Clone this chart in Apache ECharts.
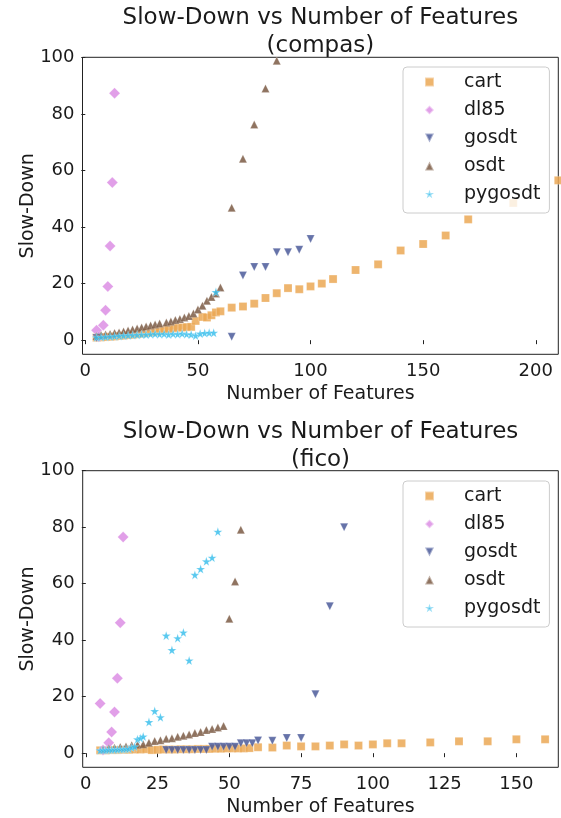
<!DOCTYPE html>
<html>
<head>
<meta charset="utf-8">
<script src="https://cdn.jsdelivr.net/npm/echarts@6.0.0/dist/echarts.min.js"></script>
<style>
html,body{margin:0;padding:0;background:#fff;}
#chart{width:561px;height:818px;}
</style>
</head>
<body>
<div id="chart"></div>
<script>
// ---------- DATA ----------
const seriesNames = ['cart', 'dl85', 'gosdt', 'osdt', 'pygosdt'];
const xTicksCompas = [0, 50, 100, 150, 200];
const xTicksFico = [0, 25, 50, 75, 100, 125, 150];
const yTicks = [0, 20, 40, 60, 80, 100];

// compas
const compasCart = [[5,0.9],[7,1.0],[9,1.1],[11,1.2],[13,1.3],[15,1.5],[17,1.6],[19,1.8],[21,1.9],[23,2.1],[25,2.3],[27,2.6],[29,2.8],[31,3.0],[33,3.3],[35,3.6],[37,3.9],[39,4.2],[41,4.4],[43,4.5],[45,4.6],[47,4.7],[49,6.8],[52,8.2],[54,8.0],[56,8.8],[58,9.8],[60,10.2],[65,11.5],[70,11.9],[75,12.9],[80,14.9],[85,16.6],[90,18.4],[95,18.0],[100,19.0],[105,20.0],[110,21.6],[120,24.8],[130,26.8],[140,31.7],[150,34.0],[160,37.0],[170,42.7],[190,48.5],[210,56.5]];
const compasDl85 = [[5,3.5],[6,1.2],[8,5.3],[9,10.6],[10,19.0],[11,33.3],[12,55.7],[13,87.3]];
const compasGosdt = [[5,0.8],[6,0.9],[65,1.2],[70,22.9],[75,25.9],[80,25.9],[85,31.1],[90,31.1],[95,32.0],[100,35.8]];
const compasOsdt = [[5,1.5],[7,1.8],[9,2.0],[11,2.2],[13,2.5],[15,2.7],[17,3.1],[19,3.4],[21,3.8],[23,4.1],[25,4.5],[27,4.8],[29,5.2],[31,5.5],[33,5.9],[36,6.2],[38,6.6],[40,7.1],[42,7.5],[44,8.0],[46,8.5],[48,9.4],[50,10.8],[52,12.2],[54,13.9],[56,15.3],[58,16.5],[60,18.6],[65,46.8],[70,64.1],[75,76.2],[80,89.0],[85,98.8]];
const compasPygosdt = [[5,1.0],[7,1.1],[9,1.2],[11,1.3],[13,1.4],[15,1.5],[17,1.6],[19,1.7],[21,1.8],[23,1.9],[25,2.0],[27,2.0],[29,2.1],[31,2.2],[33,2.1],[35,2.2],[37,2.0],[39,2.2],[41,2.1],[43,2.3],[45,2.1],[47,2.0],[49,1.6],[51,2.3],[53,2.5],[55,2.6],[57,2.6],[58,17.0]];

// fico
const ficoCart = [[5,1.0],[7,1.0],[9,1.1],[11,1.1],[13,1.2],[15,1.2],[17,1.3],[19,1.3],[21,1.4],[23,1.1],[25,1.2],[27,1.3],[29,1.3],[31,1.3],[33,1.4],[35,1.4],[37,1.4],[39,1.5],[41,1.5],[43,1.5],[45,1.6],[47,1.6],[49,1.7],[51,1.7],[53,1.7],[55,1.7],[57,1.8],[60,2.1],[65,2.0],[70,2.7],[75,2.4],[80,2.4],[85,2.7],[90,3.1],[95,2.7],[100,3.1],[105,3.5],[110,3.5],[120,3.8],[130,4.2],[140,4.2],[150,4.9],[160,4.9]];
const ficoDl85 = [[5,17.6],[6,1.1],[8,3.7],[9,7.5],[10,14.6],[11,26.5],[12,46.2],[13,76.5]];
const ficoGosdt = [[28,1.1],[30,1.1],[32,1.1],[34,1.1],[36,1.1],[38,1.1],[40,1.1],[42,1.1],[44,2.3],[46,2.3],[48,2.3],[50,2.3],[52,2.3],[54,3.5],[56,3.5],[58,3.5],[60,4.5],[65,4.4],[70,5.4],[75,5.4],[80,20.9],[85,52.0],[90,80.0]];
const ficoOsdt = [[6,1.3],[8,1.7],[10,1.9],[12,2.2],[14,2.4],[16,2.8],[18,3.0],[20,3.2],[22,3.7],[24,4.3],[26,4.6],[28,5.1],[30,5.3],[32,5.8],[34,6.2],[36,6.6],[38,7.1],[40,7.5],[42,8.2],[44,8.6],[46,9.1],[48,9.6],[50,47.6],[52,60.8],[54,79.1]];
const ficoPygosdt = [[5,1.0],[6,1.1],[7,1.1],[8,1.2],[9,1.2],[10,1.3],[11,1.3],[12,1.4],[13,1.4],[14,1.5],[15,1.5],[16,2.0],[17,2.3],[18,4.9],[19,5.3],[20,5.9],[22,11.0],[24,14.9],[26,12.7],[28,41.6],[30,36.5],[32,40.7],[34,42.7],[36,32.8],[38,63.1],[40,65.2],[42,67.9],[44,69.2],[46,78.4]];

// ---------- STYLE ----------
const FONT = 'DejaVu Sans';
const TXT = '#1a1a1a';
const colors = {cart:'#eba855', dl85:'#dc8ee4', gosdt:'#4b5a9a', osdt:'#7b5a44', pygosdt:'#3cbfec'};
const STAR = 'path://M100,0 L122.45,69.1 L195.1,69.1 L136.3,111.8 L158.8,180.9 L100,138.2 L41.2,180.9 L63.7,111.8 L4.9,69.1 L77.55,69.1 Z';
const DOWN = 'path://M0,0 L100,0 L50,100 Z';
const symbols = {cart:'rect', dl85:'diamond', gosdt:DOWN, osdt:'triangle', pygosdt:STAR};
const sizes = {cart:[8,8], dl85:[11,11], gosdt:[8,8], osdt:[8,8], pygosdt:[9,9]};

function mk(name, data, idx) {
  return {
    name: name, type: 'scatter', xAxisIndex: idx, yAxisIndex: idx,
    data: data, symbol: symbols[name], symbolSize: sizes[name], clip: true,
    itemStyle: {color: colors[name], opacity: 0.85, borderColor: 'rgba(255,255,255,0.5)', borderWidth: 0.5},
    emphasis: {disabled: true}
  };
}

const grids = [
  {left: 82.5, top: 57.3, width: 475.8, height: 297, show: true, borderColor: '#222', borderWidth: 1, backgroundColor: 'transparent'},
  {left: 82.7, top: 470.7, width: 475.6, height: 296.6, show: true, borderColor: '#222', borderWidth: 1, backgroundColor: 'transparent'}
];

function xAx(idx, min, max, ticks) {
  return {
    type: 'value', gridIndex: idx, min: min, max: max,
    axisLine: {show: false}, splitLine: {show: false},
    axisTick: {show: true, inside: false, length: 4, customValues: ticks, lineStyle: {color: '#222', width: 1}},
    axisLabel: {customValues: ticks, margin: 8, fontSize: 18, color: TXT, fontFamily: FONT},
    name: 'Number of Features', nameLocation: 'middle', nameGap: 30,
    nameTextStyle: {fontSize: 19, color: TXT, fontFamily: FONT}
  };
}
function yAx(idx) {
  return {
    type: 'value', gridIndex: idx, min: -5, max: 100,
    axisLine: {show: false}, splitLine: {show: false},
    axisTick: {show: true, inside: false, length: 4, customValues: yTicks, lineStyle: {color: '#222', width: 1}},
    axisLabel: {customValues: yTicks, margin: 8, fontSize: 18, color: TXT, fontFamily: FONT},
    name: 'Slow-Down', nameLocation: 'middle', nameGap: 45, nameMoveOverlap: false,
    nameTextStyle: {fontSize: 19, color: TXT, fontFamily: FONT}
  };
}

const legendData = seriesNames.map(n => ({name: n, icon: symbols[n]}));
function leg(top) {
  return {
    left: 403, top: top, orient: 'vertical', data: legendData,
    itemWidth: 9, itemHeight: 9, itemGap: 8,
    backgroundColor: 'rgba(255,255,255,0.8)', borderColor: '#cccccc', borderWidth: 1, borderRadius: 4,
    padding: [5, 9, 9, 21],
    textStyle: {fontSize: 19, color: TXT, fontFamily: FONT, lineHeight: 20, padding: [0, 0, 0, 25]},
    selectedMode: false
  };
}

const titleStyle = {fontSize: 23, fontWeight: 'normal', color: TXT, fontFamily: FONT, lineHeight: 28};

const option = {
  animation: false,
  title: [
    {text: 'Slow-Down vs Number of Features\n(compas)', left: 320.4, top: 4, textAlign: 'center', textStyle: titleStyle, padding: 0},
    {text: 'Slow-Down vs Number of Features\n(fico)', left: 320.5, top: 418, textAlign: 'center', textStyle: titleStyle, padding: 0}
  ],
  grid: grids,
  xAxis: [xAx(0, -1.24, 210, xTicksCompas), xAx(1, -1.08, 164.6, xTicksFico)],
  yAxis: [yAx(0), yAx(1)],
  legend: [leg(67), leg(481)],
  series: [
    mk('cart', compasCart, 0), mk('dl85', compasDl85, 0), mk('gosdt', compasGosdt, 0), mk('osdt', compasOsdt, 0), mk('pygosdt', compasPygosdt, 0),
    mk('cart', ficoCart, 1), mk('dl85', ficoDl85, 1), mk('gosdt', ficoGosdt, 1), mk('osdt', ficoOsdt, 1), mk('pygosdt', ficoPygosdt, 1)
  ]
};

const chart = echarts.init(document.getElementById('chart'), null, {renderer: 'canvas'});
chart.setOption(option);
</script>
</body>
</html>
